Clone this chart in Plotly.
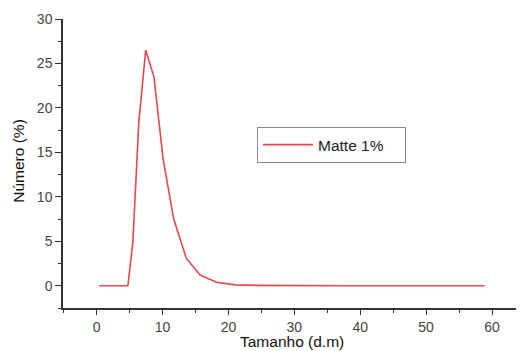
import plotly.graph_objects as go

size_dm = [0.4, 2.0, 3.5, 4.75, 5.5, 6.4, 7.45, 8.7, 10.1, 11.7, 13.6, 15.7, 18.2, 21.1, 24.4, 28.3, 32.8, 38.0, 44.0, 51.0, 58.9]
numero_pct = [0, 0, 0, 0, 4.9, 18.3, 26.5, 23.5, 14.2, 7.5, 3.1, 1.2, 0.4, 0.1, 0.04, 0.01, 0, 0, 0, 0, 0]
series_name = "Matte 1%"
x_title = "Tamanho (d.m)"
y_title = "Número (%)"

fig = go.Figure()
fig.add_trace(go.Scatter(x=size_dm, y=numero_pct, mode="lines", name=series_name,
                         line=dict(color="#e8474f", width=1.6), showlegend=True))

axis_common = dict(showgrid=False, zeroline=False, showline=True, linecolor="#333333", linewidth=1.5,
                   ticks="outside", ticklen=6, tickwidth=1.3, tickcolor="#333333", automargin=False,
                   tickfont=dict(family="Liberation Sans, Arial", size=14, color="#444444"))

fig.update_xaxes(range=[-5.1, 64.4], tick0=0, dtick=10, ticklen=5,
                 minor=dict(ticks="outside", ticklen=3, tickcolor="#333333", dtick=5, tick0=0),
                 **{k: v for k, v in axis_common.items() if k != "ticklen"})
fig.update_yaxes(range=[-2.5, 30], tick0=0, dtick=5,
                 minor=dict(ticks="outside", ticklen=3, tickcolor="#333333", dtick=2.5, tick0=0),
                 **axis_common)

title_font = dict(family="Liberation Sans, Arial", size=15.5, color="#111111")
fig.add_annotation(text=x_title, xref="paper", yref="paper", x=0.5, y=-0.149,
                   xanchor="center", yanchor="bottom", showarrow=False, font=title_font, borderpad=0)
fig.add_annotation(text=y_title, xref="paper", yref="paper", x=-0.098, y=0.51,
                   xanchor="center", yanchor="middle", textangle=-90, showarrow=False, font=title_font)

fig.update_layout(width=516, height=343, margin=dict(l=55, r=3, t=11, b=43),
                  paper_bgcolor="white", plot_bgcolor="white",
                  legend=dict(x=0.4236, y=0.626, xanchor="left", yanchor="top", orientation="h",
                              bordercolor="#888888", borderwidth=1, bgcolor="white",
                              font=dict(family="Liberation Sans, Arial", size=15.5, color="#222222"),
                              itemwidth=50, entrywidth=82, tracegroupgap=0))

fig.write_html("out.html")
